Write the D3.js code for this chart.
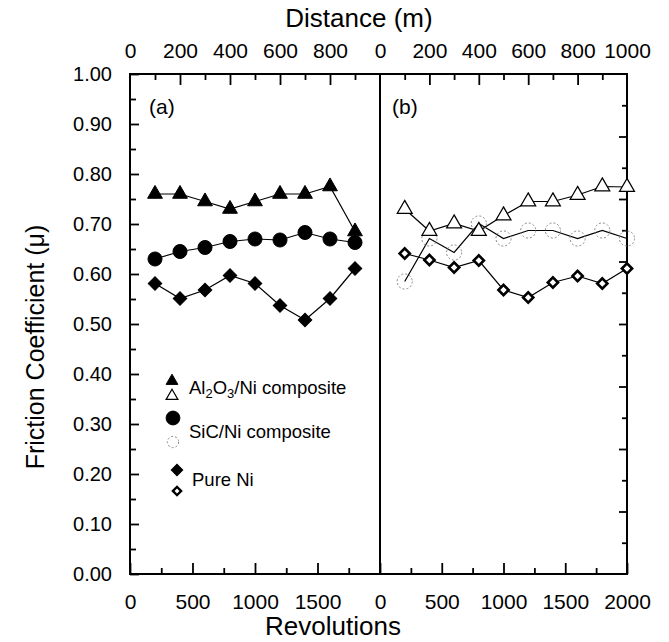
<!DOCTYPE html>
<html>
<head>
<meta charset="utf-8">
<script src="https://cdn.jsdelivr.net/npm/d3@7"></script>
<style>
  body { margin: 0; background: #fff; }
  svg { font-family: "Liberation Sans", Arial, sans-serif; }
</style>
</head>
<body>
<svg id="chart" width="669" height="642"></svg>
<script>
// data
const revsA = [200, 400, 600, 800, 1000, 1200, 1400, 1600, 1800];
const revsB = [200, 400, 600, 800, 1000, 1200, 1400, 1600, 1800, 2000];
const al2o3A = [0.760, 0.760, 0.745, 0.730, 0.745, 0.760, 0.760, 0.775, 0.685];
const sicA   = [0.630, 0.645, 0.653, 0.665, 0.670, 0.668, 0.683, 0.670, 0.663];
const niA    = [0.581, 0.551, 0.568, 0.597, 0.581, 0.537, 0.508, 0.551, 0.611];
const al2o3B = [0.730, 0.686, 0.701, 0.686, 0.717, 0.745, 0.745, 0.758, 0.775, 0.774];
const sicB   = [0.585, 0.671, 0.643, 0.701, 0.671, 0.687, 0.687, 0.671, 0.687, 0.671];
const niB    = [0.641, 0.628, 0.613, 0.627, 0.568, 0.553, 0.583, 0.596, 0.581, 0.611];

const yTicks = [0, 0.1, 0.2, 0.3, 0.4, 0.5, 0.6, 0.7, 0.8, 0.9, 1.0];
const revTicksA = [0, 500, 1000, 1500];
const revTicksB = [0, 500, 1000, 1500, 2000];
const distTicksA = [0, 200, 400, 600, 800];
const distTicksB = [0, 200, 400, 600, 800, 1000];
const legendNames = ["Al2O3/Ni composite", "SiC/Ni composite", "Pure Ni"];

(function (d3) {
    'use strict';
    const svg = d3.select('#chart');
    const yTop = 74, yBot = 574, xLeft = 130, xMid = 380, xRight = 627;

    const y = d3.scaleLinear().domain([0, 1]).range([yBot, yTop]);
    const xA = d3.scaleLinear().domain([0, 2000]).range([xLeft, xMid]);
    const xB = d3.scaleLinear().domain([0, 2000]).range([xMid, xRight]);
    const dA = d3.scaleLinear().domain([0, 1000]).range([xLeft, xMid]);
    const dB = d3.scaleLinear().domain([0, 1000]).range([xMid, xRight]);
    // right-hand frame axis of panel (b) has its own 16 divisions
    const yR = d3.scaleLinear().domain([0, 16]).range([yBot, yTop]);

    const fmtY = d3.format(".2f");
    const fmtX = d3.format("d");

    // axis helper: inward ticks, no domain line
    const addAxis = (axis, tx, ty, fontSize) => {
        const g = svg.append("g")
            .attr("transform", `translate(${tx},${ty})`)
            .call(axis);
        g.select(".domain").remove();
        g.selectAll(".tick line").attr("stroke", "#000").attr("stroke-width", 1.8);
        if (fontSize) g.selectAll("text").attr("fill", "#000").style("font-size", fontSize);
        else g.selectAll("text").remove();
        return g;
    };

    // left y axis
    addAxis(d3.axisLeft(y).tickValues(d3.range(0.05, 1, 0.1)).tickSize(-6), xLeft, 0);
    addAxis(d3.axisLeft(y).tickValues(yTicks).tickFormat(fmtY).tickSizeInner(-9).tickPadding(18), xLeft, 0, "20px");

    // right y axis of panel (b)
    addAxis(d3.axisRight(yR).tickValues(d3.range(1, 16, 2)).tickSize(-5), xRight, 0);
    addAxis(d3.axisRight(yR).tickValues(d3.range(2, 16, 2)).tickSize(-8), xRight, 0);

    // bottom revolutions axes
    addAxis(d3.axisBottom(xA).tickValues([250, 750, 1250, 1750]).tickSize(-6), 0, yBot);
    addAxis(d3.axisBottom(xA).tickValues(revTicksA).tickFormat(fmtX).tickSizeInner(-11).tickPadding(20), 0, yBot, "21px");
    addAxis(d3.axisBottom(xB).tickValues([250, 750, 1250, 1750]).tickSize(-6), 0, yBot);
    addAxis(d3.axisBottom(xB).tickValues(revTicksB).tickFormat(fmtX).tickSizeInner(-11).tickPadding(20), 0, yBot, "21px");

    // top distance axes
    addAxis(d3.axisTop(dA).tickValues([100, 300, 500, 700, 900]).tickSize(-6), 0, yTop);
    addAxis(d3.axisTop(dA).tickValues(distTicksA.slice(1)).tickSizeInner(-11), 0, yTop);
    addAxis(d3.axisTop(dA).tickValues(distTicksA).tickFormat(fmtX).tickSize(0).tickPadding(16), 0, yTop, "21px");
    addAxis(d3.axisTop(dB).tickValues([100, 300, 500, 700, 900]).tickSize(-6), 0, yTop);
    addAxis(d3.axisTop(dB).tickValues([200, 400, 600, 800]).tickSizeInner(-11), 0, yTop);
    addAxis(d3.axisTop(dB).tickValues(distTicksB).tickFormat(fmtX).tickSize(0).tickPadding(16), 0, yTop, "21px");

    // frame and divider
    svg.append("rect")
        .attr("x", xLeft).attr("y", yTop)
        .attr("width", xRight - xLeft).attr("height", yBot - yTop)
        .attr("fill", "none").attr("stroke", "#000").attr("stroke-width", 2);
    svg.append("line")
        .attr("x1", xMid).attr("x2", xMid).attr("y1", yTop).attr("y2", yBot)
        .attr("stroke", "#000").attr("stroke-width", 2);

    // axis titles
    svg.append("text").attr("x", 359).attr("y", 27).attr("text-anchor", "middle")
        .style("font-size", "26px").text("Distance (m)");
    svg.append("text").attr("x", 333).attr("y", 635).attr("text-anchor", "middle")
        .style("font-size", "26px").text("Revolutions");
    svg.append("text")
        .attr("transform", "translate(44,347) rotate(-90)")
        .attr("text-anchor", "middle")
        .style("font-size", "25px")
        .text("Friction Coefficient (\u03bc)");

    // panel labels
    svg.append("text").attr("x", 149).attr("y", 114).style("font-size", "21px").text("(a)");
    svg.append("text").attr("x", 392).attr("y", 114).style("font-size", "21px").text("(b)");

    // series
    const line = (xs) => d3.line().x(d => xs(d.x)).y(d => y(d.y));
    const zipped = (revs, vals) => revs.map((r, i) => ({x: r, y: vals[i]}));

    // diamonds are squares turned by 45 degrees
    const series = [
        {data: zipped(revsA, al2o3A), xs: xA, shape: d3.symbolTriangle, size: 95, rot: 0, fill: "#000", stroke: "#000", sw: 1, dash: null},
        {data: zipped(revsA, sicA), xs: xA, shape: d3.symbolCircle, size: 155, rot: 0, fill: "#000", stroke: "#000", sw: 1, dash: null},
        {data: zipped(revsA, niA), xs: xA, shape: d3.symbolSquare, size: 92, rot: 45, fill: "#000", stroke: "#000", sw: 1, dash: null},
        {data: zipped(revsB, sicB), xs: xB, shape: d3.symbolCircle, size: 180, rot: 0, fill: "none", stroke: "#888", sw: 1, dash: "2,2"},
        {data: zipped(revsB, al2o3B), xs: xB, shape: d3.symbolTriangle, size: 95, rot: 0, fill: "#fff", stroke: "#000", sw: 1.3, dash: null},
        {data: zipped(revsB, niB), xs: xB, shape: d3.symbolSquare, size: 52, rot: 45, fill: "#fff", stroke: "#000", sw: 2.6, dash: null}
    ];

    series.forEach(s => {
        svg.append("path")
            .datum(s.data)
            .attr("d", line(s.xs))
            .attr("fill", "none")
            .attr("stroke", "#000")
            .attr("stroke-width", 1.2);
    });

    series.forEach(s => {
        svg.append("g")
            .selectAll("path")
            .data(s.data)
            .join("path")
            .attr("transform", d => `translate(${s.xs(d.x)},${y(d.y)}) rotate(${s.rot})`)
            .attr("d", d3.symbol().type(s.shape).size(s.size))
            .attr("fill", s.fill)
            .attr("stroke", s.stroke)
            .attr("stroke-width", s.sw)
            .attr("stroke-dasharray", s.dash);
    });

    // legend
    const legendMarks = [
        {x: 172, y: 381, shape: d3.symbolTriangle, size: 60, rot: 0, fill: "#000", stroke: "#000", sw: 1, dash: null},
        {x: 172, y: 396, shape: d3.symbolTriangle, size: 60, rot: 0, fill: "#fff", stroke: "#000", sw: 1.2, dash: null},
        {x: 173, y: 418, shape: d3.symbolCircle, size: 150, rot: 0, fill: "#000", stroke: "#000", sw: 1, dash: null},
        {x: 173, y: 442, shape: d3.symbolCircle, size: 100, rot: 0, fill: "none", stroke: "#888", sw: 1, dash: "2,2"},
        {x: 177, y: 470, shape: d3.symbolSquare, size: 66, rot: 45, fill: "#000", stroke: "#000", sw: 1, dash: null},
        {x: 177, y: 491, shape: d3.symbolSquare, size: 34, rot: 45, fill: "#fff", stroke: "#000", sw: 2.4, dash: null}
    ];
    svg.append("g")
        .selectAll("path")
        .data(legendMarks)
        .join("path")
        .attr("transform", d => `translate(${d.x},${d.y}) rotate(${d.rot})`)
        .attr("d", d => d3.symbol().type(d.shape).size(d.size)())
        .attr("fill", d => d.fill)
        .attr("stroke", d => d.stroke)
        .attr("stroke-width", d => d.sw)
        .attr("stroke-dasharray", d => d.dash);

    // Al2O3 with subscripts
    const t1 = svg.append("text").attr("x", 189).attr("y", 394).style("font-size", "18.5px");
    t1.append("tspan").text("Al");
    t1.append("tspan").attr("dy", 4).style("font-size", "13px").text("2");
    t1.append("tspan").attr("dy", -4).text("O");
    t1.append("tspan").attr("dy", 4).style("font-size", "13px").text("3");
    t1.append("tspan").attr("dy", -4).text("/Ni composite");

    svg.append("text").attr("x", 189).attr("y", 438).style("font-size", "18.5px").text(legendNames[1]);
    svg.append("text").attr("x", 192).attr("y", 486).style("font-size", "18.5px").text(legendNames[2]);
}(d3));
</script>
</body>
</html>
